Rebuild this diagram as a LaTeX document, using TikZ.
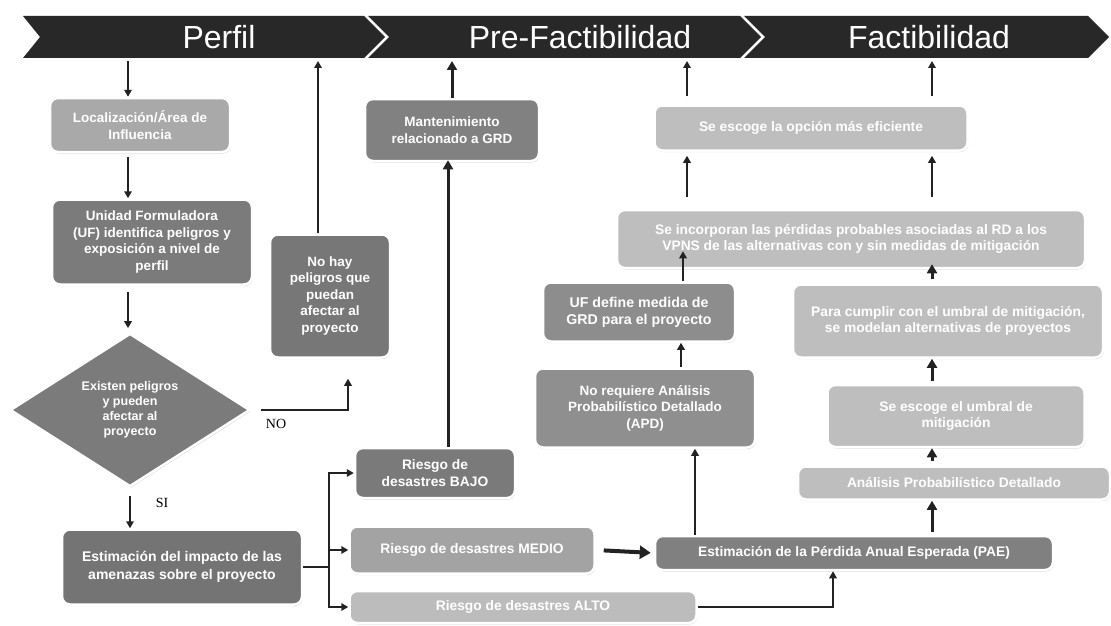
\documentclass[tikz,border=0pt]{standalone}
\usepackage{fontspec}
\setmainfont{Liberation Serif}
\setsansfont{Liberation Sans}
\usetikzlibrary{shapes.geometric,shadows,arrows.meta,calc}

\definecolor{bannerfill}{HTML}{282828}
\definecolor{linecol}{HTML}{222222}
\definecolor{gloc}{HTML}{A9A9A9}
\definecolor{guf}{HTML}{7B7B7B}
\definecolor{gest}{HTML}{747474}
\definecolor{gnohay}{HTML}{777777}
\definecolor{gmant}{HTML}{818181}
\definecolor{gbajo}{HTML}{7A7A7A}
\definecolor{gmedio}{HTML}{A3A3A3}
\definecolor{galto}{HTML}{BCBCBC}
\definecolor{gpae}{HTML}{808080}
\definecolor{gapd}{HTML}{8F8F8F}
\definecolor{gufdef}{HTML}{8D8D8D}
\definecolor{glight}{HTML}{BEBEBE}

\tikzset{
  box/.style={rectangle, rounded corners=8pt, draw=white, line width=2.5pt,
    text=white, align=center, inner sep=2pt,
    font=\sffamily\bfseries\fontsize{13.5}{16.5}\selectfont,
    drop shadow={opacity=0.35, shadow xshift=0.8pt, shadow yshift=-1.5pt}},
  lightbox/.style={box, font=\sffamily\bfseries\fontsize{13.8}{16.5}\selectfont},
  arr/.style={draw=linecol, line width=1.8pt, -{Triangle[length=7pt,width=7.5pt]}},
  bigarr/.style={draw=linecol, line width=3pt, -{Triangle[length=9pt,width=10pt]}},
  plain/.style={draw=linecol, line width=1.8pt},
  banner/.style={fill=bannerfill},
  title/.style={text=white, font=\sffamily\fontsize{32}{32}\selectfont},
  lbl/.style={font=\rmfamily\fontsize{14}{14}\selectfont, text=black}
}

\begin{document}
\begin{tikzpicture}[x=1pt, y=-1pt]
\useasboundingbox (0,0) rectangle (1111,626);

% stage banner
\fill[banner] (23,16) -- (364,16) -- (385,37) -- (364,58) -- (23,58) -- (40,37) -- cycle;
\fill[banner] (368,16) -- (740,16) -- (761,37) -- (740,58) -- (368,58) -- (389,37) -- cycle;
\fill[banner] (744,16) -- (1088,16) -- (1109,37) -- (1088,58) -- (744,58) -- (765,37) -- cycle;
\node[title] (tperfil) at (219,37) {Perfil};
\node[title] (tpre) at (580,37) {Pre-Factibilidad};
\node[title] (tfact) at (929,37) {Factibilidad};
\coordinate (bline) at (0,61);

% columns of the vertical connectors
\coordinate (colL) at (128,0);
\coordinate (colM) at (687,0);
\coordinate (colR) at (932,0);

% Perfil
\node[box, fill=gloc, minimum width=180pt, minimum height=54pt] (loc) at (140,125)
  {Localización/Área de\\Influencia};
\node[box, fill=guf, minimum width=200pt, minimum height=85pt] (uf) at (152,242)
  {Unidad Formuladora\\(UF) identifica peligros y\\exposición a nivel de\\perfil};
\node[diamond, draw=white, line width=2.5pt, fill=guf, text=white, align=center,
  minimum width=240pt, minimum height=145pt, inner sep=0pt,
  font=\sffamily\bfseries\fontsize{12.5}{15}\selectfont,
  drop shadow={opacity=0.35, shadow xshift=0.8pt, shadow yshift=-1.5pt}] (dia) at (130,410)
  {Existen peligros\\y pueden\\afectar al\\proyecto};
\node[box, fill=gest, minimum width=240pt, minimum height=75pt,
  font=\sffamily\bfseries\fontsize{14}{18}\selectfont] (est) at (182,567)
  {Estimación del impacto de las\\amenazas sobre el proyecto};
\node[box, fill=gnohay, minimum width=120pt, minimum height=123pt] (nohay) at (330,296)
  {No hay\\peligros que\\puedan\\afectar al\\proyecto};

% risk levels
\node[box, fill=gmant, minimum width=174pt, minimum height=62pt] (mant) at (452,130)
  {Mantenimiento\\relacionado a GRD};
\node[box, fill=gbajo, minimum width=160pt, minimum height=50pt,
  font=\sffamily\bfseries\fontsize{13.8}{17}\selectfont] (bajo) at (435,473)
  {Riesgo de\\desastres BAJO};
\node[lightbox, fill=gmedio, minimum width=245pt, minimum height=47pt] (medio) at (472,550)
  {Riesgo de desastres MEDIO};
\node[lightbox, fill=galto, minimum width=347pt, minimum height=32pt] (alto) at (523,607)
  {Riesgo de desastres ALTO};

% Pre-factibilidad / factibilidad
\node[lightbox, fill=gpae, minimum width=398pt, minimum height=34pt] (pae) at (854,553)
  {Estimación de la Pérdida Anual Esperada (PAE)};
\node[box, fill=gapd, minimum width=220pt, minimum height=79pt] (apd) at (645,408)
  {No requiere Análisis\\Probabilístico Detallado\\(APD)};
\node[box, fill=gufdef, minimum width=192pt, minimum height=59pt,
  font=\sffamily\bfseries\fontsize{14.2}{17}\selectfont] (ufdef) at (639,312)
  {UF define medida de\\GRD para el proyecto};
\node[lightbox, fill=glight, minimum width=468pt, minimum height=58pt] (incorp) at (851,239)
  {Se incorporan las pérdidas probables asociadas al RD a los\\VPNS de las alternativas con y sin medidas de mitigación};
\node[lightbox, fill=glight, minimum width=313pt, minimum height=45pt] (opcion) at (811,128)
  {Se escoge la opción más eficiente};
\node[lightbox, fill=glight, minimum width=310pt, minimum height=73pt] (cumplir) at (948,321)
  {Para cumplir con el umbral de mitigación,\\se modelan alternativas de proyectos};
\node[lightbox, fill=glight, minimum width=257pt, minimum height=62pt] (umbral) at (956,416)
  {Se escoge el umbral de\\mitigación};
\node[lightbox, fill=glight, minimum width=312pt, minimum height=33pt] (analisis) at (954,483)
  {Análisis Probabilístico Detallado};

% connectors: Perfil column
\draw[arr] (colL |- bline) -- (colL |- loc.north);
\draw[arr, shorten <=4pt] (colL |- loc.south) -- (colL |- uf.north);
\draw[arr, shorten <=6pt, shorten >=4pt] (colL |- uf.south) -- (colL |- dia.north);
\draw[arr, shorten <=8pt] (dia.south) -- (dia.south |- est.north);
\node[lbl] (si) at (162,503) {SI};
\draw[arr, shorten <=10pt] (dia.east) -| ([xshift=18pt, yshift=-20pt]nohay.south);
\node[lbl] (no) at (276,424) {NO};
\draw[arr] ([xshift=-12pt]nohay.north) -- ([xshift=-12pt]nohay.north |- bline);

% branching to the risk levels
\draw[plain] (est.east) -- ++(26,0) coordinate (split);
\draw[arr] (split) |- (bajo.west);
\draw[arr] (split) |- (medio.west);
\draw[arr] (split) |- (alto.west);

% low risk
\draw[bigarr, shorten >=-2pt] ([xshift=13pt]bajo.north) -- ([xshift=13pt]bajo.north |- mant.south);
\draw[bigarr] (mant.north) -- (mant.north |- bline);

% medium and high risk
\draw[draw=linecol, line width=4pt, -{Triangle[length=11pt,width=13pt]}, shorten <=8pt, shorten >=3pt]
  (medio.east) -- (pae.west);
\draw[arr] (alto.east) -| ([xshift=-21pt]pae.south);
\draw[arr] ([xshift=50pt]apd.south |- pae.north) -- ([xshift=50pt]apd.south);
\draw[arr] ([xshift=36pt]apd.north) -- ([xshift=36pt]apd.north |- ufdef.south);
\draw[arr] ([xshift=44pt]ufdef.north) -- ([xshift=44pt, yshift=18pt]ufdef.north |- incorp.south);

% right column
\draw[bigarr, shorten <=3pt] (colR |- pae.north) -- (colR |- analisis.south);
\draw[bigarr, shorten <=4pt] (colR |- analisis.north) -- (colR |- umbral.south);
\draw[bigarr, shorten <=3pt] (colR |- umbral.north) -- (colR |- cumplir.south);
\draw[bigarr, shorten <=4pt, shorten >=-5pt] (colR |- cumplir.north) -- (colR |- incorp.south);
\draw[arr, shorten <=12pt, shorten >=4pt] (colM |- incorp.north) -- (colM |- opcion.south);
\draw[arr, shorten <=12pt, shorten >=4pt] (colR |- incorp.north) -- (colR |- opcion.south);
\draw[arr, shorten <=8pt] (colM |- opcion.north) -- (colM |- bline);
\draw[arr, shorten <=8pt] (colR |- opcion.north) -- (colR |- bline);
\end{tikzpicture}
\end{document}
